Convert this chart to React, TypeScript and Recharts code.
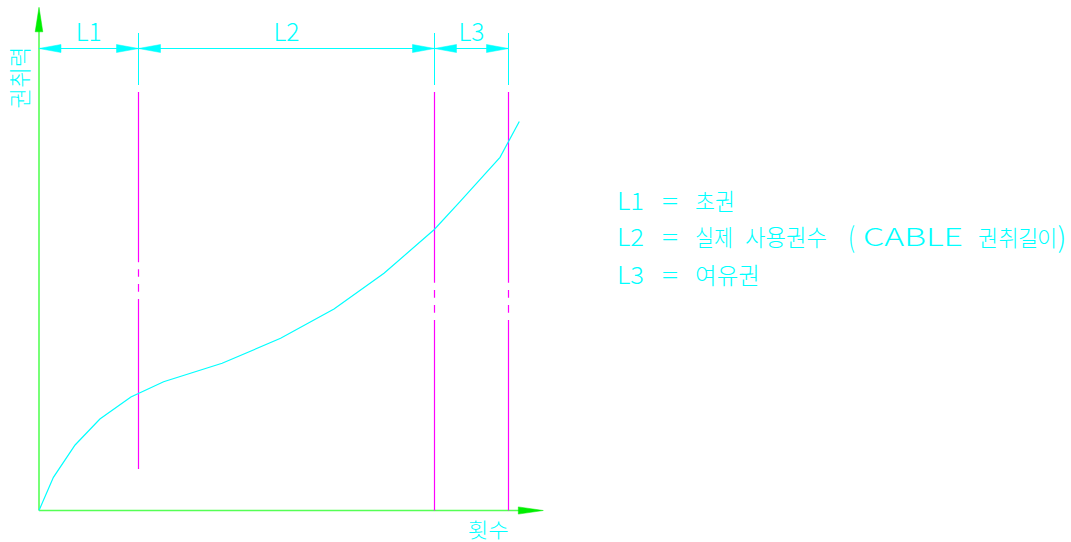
import React from 'react';
import { LineChart, Line, XAxis, YAxis, ReferenceLine, ReferenceDot } from 'recharts';

// ---- data (x = 회수, y = 권취력, arbitrary units) ----
const turns = [0, 14.4, 36.1, 60.9, 91.9, 124.6, 183.1, 241.6, 295, 345, 395.3, 421, 461, 480.3];
const force = [0, 33.2, 65.5, 91.5, 113.5, 128.8, 147.2, 172.2, 201.5, 237.2, 281, 308.8, 353.2, 389];
const sectionBounds = [0, 99.5, 395.5, 469.5];
const sectionLabels = ['L1', 'L2', 'L3'];
const xAxisTitle = '횟수';
const yAxisTitle = '권취력';
const legendLines = [
  [['L1', 617, 27, 'lat'], ['=', 662, 16, 'lat'], ['초권', 695, 40, 'kor']],
  [['L2', 617, 27, 'lat'], ['=', 662, 16, 'lat'], ['실제', 695, 38, 'kor'], ['사용권수', 745, 82, 'kor'], ['(', 848, 7, 'par'], ['CABLE', 863, 100, 'lat']],
  [['L3', 617, 27, 'lat'], ['=', 662, 16, 'lat'], ['여유권', 695, 65, 'kor']],
];
const legendTail = ['권취길이', ')'];
const legendBaselines = [210, 246, 283.5];

const curve = turns.map((x, i) => ({ x, y: force[i] }));

// ---- layout ----
const W = 1071;
const H = 542;
const X_DOMAIN: [number, number] = [-39, 1032];
const Y_DOMAIN: [number, number] = [-31.5, 510.5];
const DIM_Y = 462;
const EXT_TOP = 477.5;
const EXT_BOTTOM = 425.5;
const MAG_TOP = 418.5;
const L1_BOTTOM = 41.5;
const DIM_LABEL_Y = 469.8;
const X_ARROW_TIP = 504.3;
const Y_ARROW_TIP = 503.2;
const TAIL_X = '978 998.5 1018 1037';

const CYAN = '#00ffff';
const MAGENTA = '#ff00ff';
const GREEN_LINE = '#55ff55';
const GREEN_FILL = '#00ee00';
const FONT = '"Noto Sans CJK KR", "Noto Sans", sans-serif';

const dashShort = '170.3 7 7.4 7.3 7.7 7.3 600';
const dashLong = '190.7 7.3 7.7 7.3 7.7 7.3 600';

const sizeOf: Record<string, number> = { kor: 23, lat: 24, par: 28 };

const arrowShape = (dir: 'left' | 'right') => (p: any) => {
  const { cx, cy } = p;
  const L = 22;
  const h = 4;
  const pts =
    dir === 'left'
      ? `${cx},${cy} ${cx + L},${cy - h} ${cx + L},${cy + h}`
      : `${cx},${cy} ${cx - L},${cy - h} ${cx - L},${cy + h}`;
  return <polygon points={pts} fill={CYAN} stroke={CYAN} strokeWidth={0.5} />;
};

const labelShape = (text: string) => (p: any) => (
  <text
    x={p.cx}
    y={p.cy}
    textAnchor="middle"
    fontFamily={FONT}
    fontSize={25}
    fontWeight={300}
    fill={CYAN}
    textLength={26}
    lengthAdjust="spacingAndGlyphs"
  >
    {text}
  </text>
);

export default function App() {
  return (
    <div style={{ position: 'absolute', left: 0, top: 0, width: W, height: H, background: '#fff' }}>
      <LineChart width={W} height={H} data={curve} margin={{ top: 0, right: 0, bottom: 0, left: 0 }}>
        <XAxis type="number" dataKey="x" domain={X_DOMAIN} hide allowDataOverflow />
        <YAxis type="number" domain={Y_DOMAIN} hide allowDataOverflow />

        {/* axes */}
        <ReferenceLine
          segment={[{ x: 0, y: 0 }, { x: X_ARROW_TIP - 10, y: 0 }]}
          stroke={GREEN_LINE}
          strokeWidth={1.6}
          ifOverflow="visible"
        />
        <ReferenceLine
          segment={[{ x: 0, y: 0 }, { x: 0, y: Y_ARROW_TIP - 10 }]}
          stroke={GREEN_LINE}
          strokeWidth={1.6}
          ifOverflow="visible"
        />
        <ReferenceDot
          x={X_ARROW_TIP}
          y={0}
          ifOverflow="visible"
          shape={(p: any) => (
            <polygon
              points={`${p.cx},${p.cy} ${p.cx - 25},${p.cy - 3.6} ${p.cx - 25},${p.cy + 3.6}`}
              fill={GREEN_FILL}
              stroke={GREEN_FILL}
              strokeWidth={0.5}
            />
          )}
        />
        <ReferenceDot
          x={0}
          y={Y_ARROW_TIP}
          ifOverflow="visible"
          shape={(p: any) => (
            <polygon
              points={`${p.cx},${p.cy} ${p.cx - 3.8},${p.cy + 24.5} ${p.cx + 3.8},${p.cy + 24.5}`}
              fill={GREEN_FILL}
              stroke={GREEN_FILL}
              strokeWidth={0.5}
            />
          )}
        />

        {/* section boundaries (magenta) */}
        {sectionBounds.slice(1).map((b, i) => (
          <ReferenceLine
            key={'m' + i}
            segment={[{ x: b, y: MAG_TOP }, { x: b, y: i === 0 ? L1_BOTTOM : 0 }]}
            stroke={MAGENTA}
            strokeWidth={1.2}
            strokeDasharray={i === 0 ? dashShort : dashLong}
            ifOverflow="visible"
          />
        ))}

        {/* dimension extension lines */}
        {sectionBounds.slice(1).map((b, i) => (
          <ReferenceLine
            key={'e' + i}
            segment={[{ x: b, y: EXT_TOP }, { x: b, y: EXT_BOTTOM }]}
            stroke={CYAN}
            strokeWidth={1}
            ifOverflow="visible"
          />
        ))}
        {/* dimension line */}
        <ReferenceLine
          segment={[{ x: sectionBounds[0], y: DIM_Y }, { x: sectionBounds[sectionBounds.length - 1], y: DIM_Y }]}
          stroke={CYAN}
          strokeWidth={1}
          ifOverflow="visible"
        />
        {sectionLabels.map((lab, i) => (
          <ReferenceDot key={'al' + i} x={sectionBounds[i]} y={DIM_Y} ifOverflow="visible" shape={arrowShape('left')} />
        ))}
        {sectionLabels.map((lab, i) => (
          <ReferenceDot key={'ar' + i} x={sectionBounds[i + 1]} y={DIM_Y} ifOverflow="visible" shape={arrowShape('right')} />
        ))}
        {sectionLabels.map((lab, i) => (
          <ReferenceDot
            key={'lb' + i}
            x={(sectionBounds[i] + sectionBounds[i + 1]) / 2}
            y={DIM_LABEL_Y}
            ifOverflow="visible"
            shape={labelShape(lab)}
          />
        ))}

        <Line
          type="linear"
          dataKey="y"
          stroke={CYAN}
          strokeWidth={1.2}
          dot={false}
          activeDot={false}
          isAnimationActive={false}
        />
      </LineChart>

      <svg
        width={W}
        height={H}
        style={{ position: 'absolute', left: 0, top: 0, pointerEvents: 'none' }}
      >
        <text
          x={18.4}
          y={77.5}
          transform="rotate(-90 18.4 77.5)"
          textAnchor="middle"
          dominantBaseline="central"
          fontFamily={FONT}
          fontSize={22}
          fontWeight={300}
          fill={CYAN}
          textLength={62}
          lengthAdjust="spacingAndGlyphs"
        >
          {yAxisTitle}
        </text>
        <text
          x={488.3}
          y={529}
          textAnchor="middle"
          dominantBaseline="central"
          fontFamily={FONT}
          fontSize={20}
          fontWeight={300}
          fill={CYAN}
          textLength={41}
          lengthAdjust="spacingAndGlyphs"
        >
          {xAxisTitle}
        </text>
        {legendLines.map((line, li) =>
          line.map(([t, x, len, kind], k) => (
            <text
              key={li + '-' + k}
              x={x as number}
              y={legendBaselines[li] + (kind === 'par' ? 2 : 0)}
              fontFamily={FONT}
              fontSize={sizeOf[kind as string]}
              fontWeight={300}
              fill={CYAN}
              textLength={len as number}
              lengthAdjust="spacingAndGlyphs"
            >
              {t as string}
            </text>
          ))
        )}
        <text x={978} y={legendBaselines[1]} fontFamily={FONT} fontWeight={300} fill={CYAN} fontSize={22}>
          <tspan x={TAIL_X}>{legendTail[0]}</tspan>
          <tspan x={1057.5} dy={2} fontSize={28}>
            {legendTail[1]}
          </tspan>
        </text>
      </svg>
    </div>
  );
}
